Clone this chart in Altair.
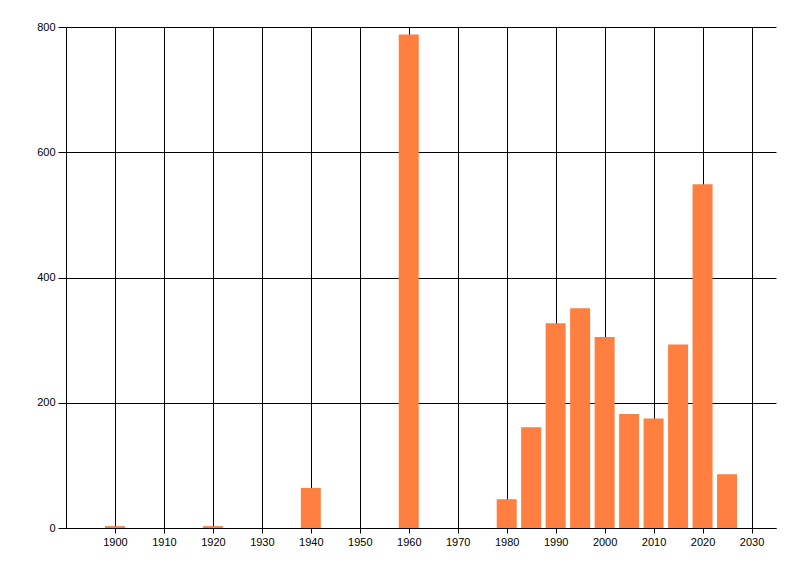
import altair as alt
import pandas as pd

years = [1900, 1920, 1940, 1960, 1980, 1985, 1990, 1995, 2000, 2005, 2010, 2015, 2020, 2025]
counts = [3, 3, 64, 788, 46, 161, 327, 351, 305, 182, 175, 293, 549, 86]
x_ticks = list(range(1900, 2031, 10))
y_ticks = [0, 200, 400, 600, 800]

df = pd.DataFrame({"year": years, "count": counts})

font = "Liberation Sans"

chart = alt.Chart(df).mark_bar(color="#FF7F40", size=20).encode(
    x=alt.X("year:Q",
            scale=alt.Scale(domain=[1890, 2035], nice=False, zero=False, padding=0),
            axis=alt.Axis(values=x_ticks, format="d", title=None, grid=True,
                          gridColor="black", gridOpacity=1, gridWidth=1,
                          domainColor="black", domainWidth=1,
                          tickColor="black", tickSize=5, labelPadding=3,
                          labelFont=font, labelFontSize=11, labelColor="black")),
    y=alt.Y("count:Q",
            scale=alt.Scale(domain=[0, 800], nice=False),
            axis=alt.Axis(values=y_ticks, title=None, grid=True,
                          gridColor="black", gridOpacity=1, gridWidth=1,
                          domainColor="black", domainWidth=1,
                          tickColor="black", tickSize=8, labelPadding=3,
                          labelFont=font, labelFontSize=11, labelColor="black")),
).properties(
    width=710, height=501,
    background="white",
    autosize=alt.AutoSizeParams(type="none"),
    padding={"left": 58, "top": 19, "right": 10, "bottom": 30},
).configure_view(stroke=None, strokeWidth=0)

chart.save("out.html", embed_options={"renderer": "svg", "actions": False})
